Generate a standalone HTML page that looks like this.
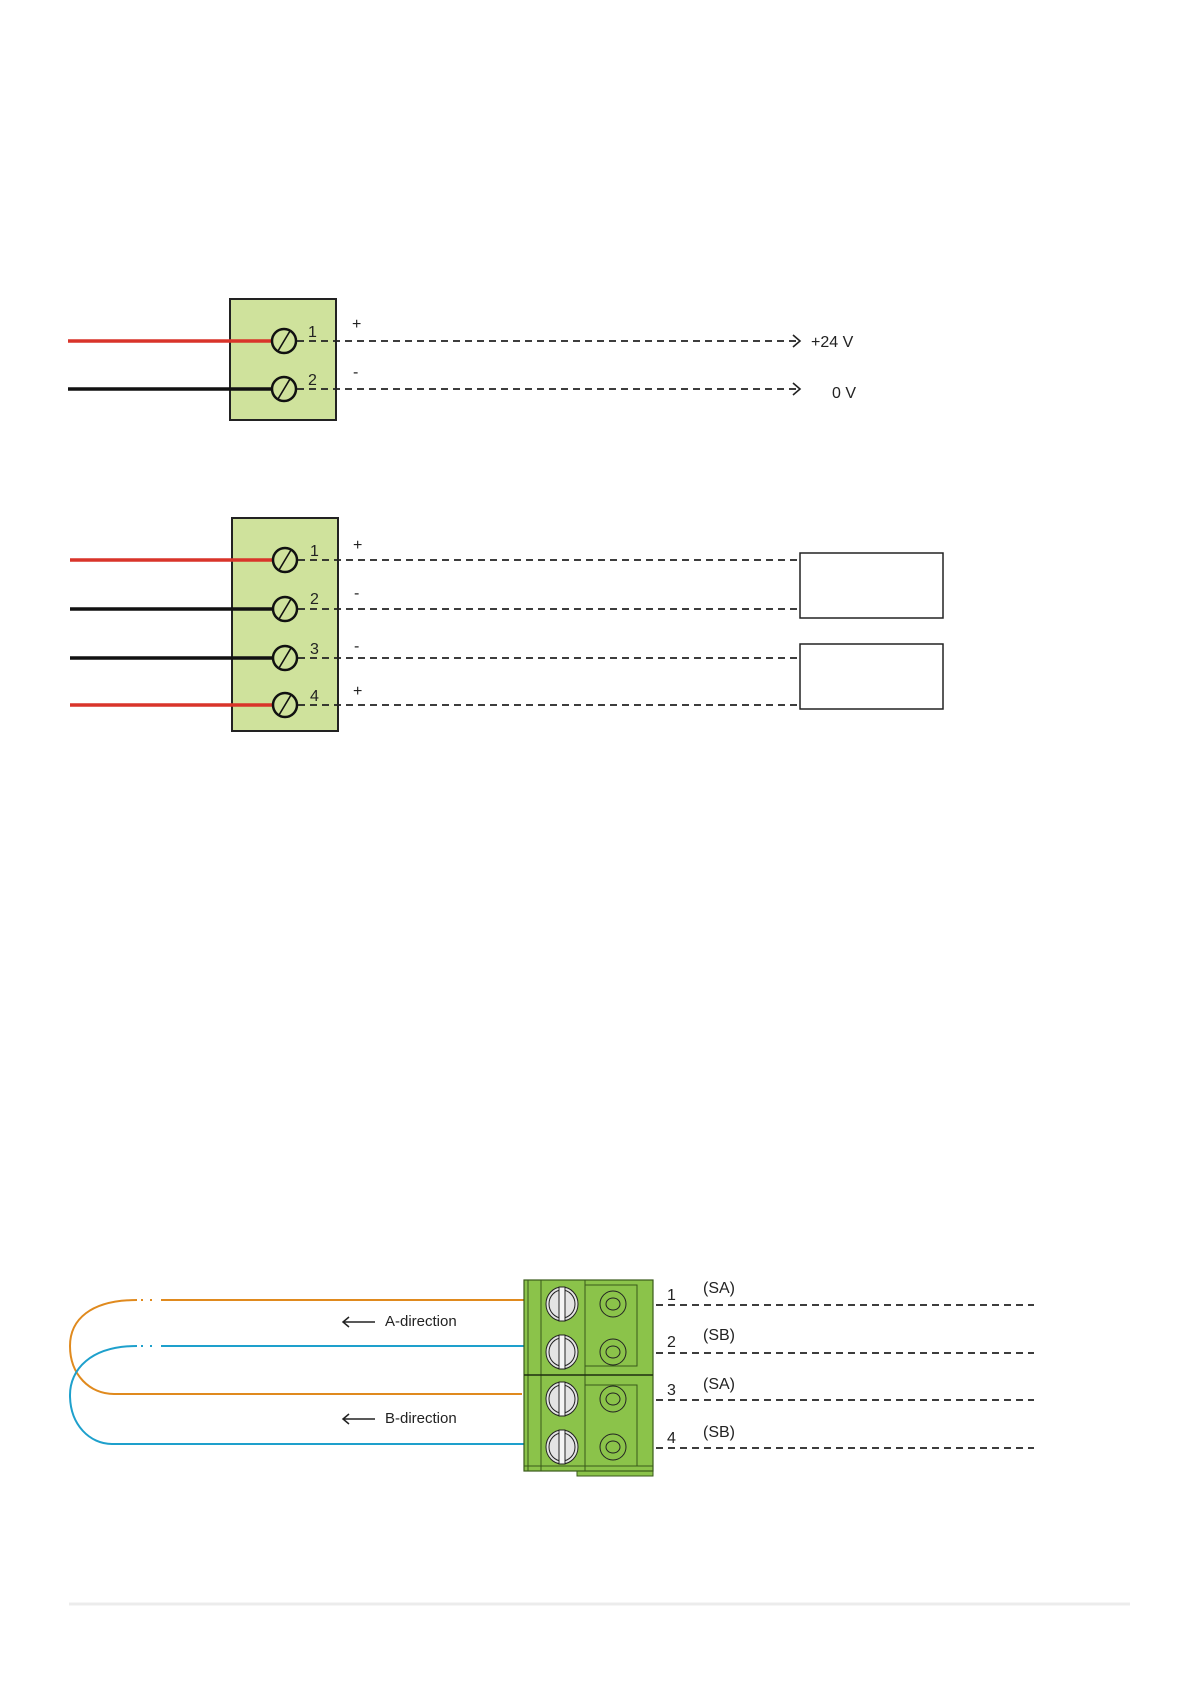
<!DOCTYPE html>
<html><head><meta charset="utf-8"><style>html,body{margin:0;padding:0;background:#fff}svg{display:block}</style></head><body>
<svg width="1191" height="1684" viewBox="0 0 1191 1684" xmlns="http://www.w3.org/2000/svg" font-family="Liberation Sans, sans-serif">
<!-- Diagram 1 -->
<rect x="230" y="299" width="106" height="121" fill="#cfe29c" stroke="#222" stroke-width="2"/>
<line x1="68" y1="341" x2="273" y2="341" stroke="#d9342a" stroke-width="3.5"/>
<line x1="68" y1="389" x2="273" y2="389" stroke="#111" stroke-width="3.5"/>
<g stroke="#111" stroke-width="2.5" fill="none">
<circle cx="284" cy="341" r="12"/>
<circle cx="284" cy="389" r="12"/>
</g>
<g stroke="#111" stroke-width="1.6" fill="none">
<line x1="278" y1="351" x2="290" y2="331"/>
<line x1="278" y1="399" x2="290" y2="379"/>
</g>
<g stroke="#222" stroke-width="1.8" stroke-dasharray="7,5" fill="none">
<line x1="297" y1="341" x2="798" y2="341"/>
<line x1="297" y1="389" x2="798" y2="389"/>
</g>
<g stroke="#222" stroke-width="1.6" fill="none">
<polyline points="793,335 800,341 793,347"/>
<polyline points="793,383 800,389 793,395"/>
</g>
<g font-size="16" fill="#222">
<text x="308" y="337">1</text><text x="308" y="385">2</text>
<text x="352" y="329">+</text><text x="353" y="377">-</text>
<text x="811" y="347">+24 V</text><text x="832" y="398">0 V</text>
</g>
<!-- Diagram 2 -->
<rect x="232" y="518" width="106" height="213" fill="#cfe29c" stroke="#222" stroke-width="2"/>
<line x1="70" y1="560" x2="273" y2="560" stroke="#d9342a" stroke-width="3.5"/>
<line x1="70" y1="609" x2="273" y2="609" stroke="#111" stroke-width="3.5"/>
<line x1="70" y1="658" x2="273" y2="658" stroke="#111" stroke-width="3.5"/>
<line x1="70" y1="705" x2="273" y2="705" stroke="#d9342a" stroke-width="3.5"/>
<g stroke="#111" stroke-width="2.5" fill="none">
<circle cx="285" cy="560" r="12"/>
<circle cx="285" cy="609" r="12"/>
<circle cx="285" cy="658" r="12"/>
<circle cx="285" cy="705" r="12"/>
</g>
<g stroke="#111" stroke-width="1.6" fill="none">
<line x1="279" y1="570" x2="291" y2="550"/>
<line x1="279" y1="619" x2="291" y2="599"/>
<line x1="279" y1="668" x2="291" y2="648"/>
<line x1="279" y1="715" x2="291" y2="695"/>
</g>
<g stroke="#222" stroke-width="1.8" stroke-dasharray="7,5" fill="none">
<line x1="298" y1="560" x2="798" y2="560"/>
<line x1="298" y1="609" x2="798" y2="609"/>
<line x1="298" y1="658" x2="798" y2="658"/>
<line x1="298" y1="705" x2="798" y2="705"/>
</g>
<rect x="800" y="553" width="143" height="65" fill="#fff" stroke="#222" stroke-width="1.5"/>
<rect x="800" y="644" width="143" height="65" fill="#fff" stroke="#222" stroke-width="1.5"/>
<g font-size="16" fill="#222">
<text x="310" y="556">1</text><text x="310" y="604">2</text><text x="310" y="654">3</text><text x="310" y="701">4</text>
<text x="353" y="550">+</text><text x="354" y="598">-</text><text x="354" y="651">-</text><text x="353" y="696">+</text>
</g>
<!-- Diagram 3 -->
<g fill="none" stroke-width="2">
<path d="M524,1300 H161" stroke="#e08a1e"/>
<path d="M152,1300 H150 M143,1300 H141" stroke="#e08a1e"/>
<path d="M137,1300 C90,1300 70,1320 70,1346 C70,1375 90,1394 114,1394 H522" stroke="#e08a1e"/>
<path d="M524,1346 H161" stroke="#1ea0cc"/>
<path d="M152,1346 H150 M143,1346 H141" stroke="#1ea0cc"/>
<path d="M137,1346 C90,1346 70,1370 70,1395 C70,1425 90,1444 112,1444 H524" stroke="#1ea0cc"/>
</g>
<rect x="577" y="1440" width="76" height="36" fill="#8bc34a" stroke="#3a5a1a" stroke-width="1"/>
<rect x="524" y="1280" width="129" height="191" fill="#8bc34a" stroke="#3a5a1a" stroke-width="1.2"/>
<g stroke="#3a5a1a" stroke-width="1" fill="none">
<line x1="528" y1="1280" x2="528" y2="1471"/>
<line x1="541" y1="1280" x2="541" y2="1471"/>
<line x1="585" y1="1280" x2="585" y2="1471"/>
<rect x="585" y="1285" width="52" height="81"/>
<rect x="585" y="1385" width="52" height="81"/>
<line x1="524" y1="1466" x2="653" y2="1466"/>
</g>
<line x1="524" y1="1375" x2="653" y2="1375" stroke="#1e2e10" stroke-width="1.5"/>
<g stroke="#222" stroke-width="1">
<g fill="#e4e4e4">
<ellipse cx="562" cy="1304" rx="16" ry="17"/><ellipse cx="562" cy="1352" rx="16" ry="17"/>
<ellipse cx="562" cy="1399" rx="16" ry="17"/><ellipse cx="562" cy="1447" rx="16" ry="17"/>
</g>
<g fill="none">
<ellipse cx="562" cy="1304" rx="13" ry="14"/><ellipse cx="562" cy="1352" rx="13" ry="14"/>
<ellipse cx="562" cy="1399" rx="13" ry="14"/><ellipse cx="562" cy="1447" rx="13" ry="14"/>
</g>
<g fill="#f4f4f4">
<rect x="559" y="1287" width="6" height="34"/><rect x="559" y="1335" width="6" height="34"/>
<rect x="559" y="1382" width="6" height="34"/><rect x="559" y="1430" width="6" height="34"/>
</g>
<g fill="none">
<circle cx="613" cy="1304" r="13"/><ellipse cx="613" cy="1304" rx="7" ry="6"/>
<circle cx="613" cy="1352" r="13"/><ellipse cx="613" cy="1352" rx="7" ry="6"/>
<circle cx="613" cy="1399" r="13"/><ellipse cx="613" cy="1399" rx="7" ry="6"/>
<circle cx="613" cy="1447" r="13"/><ellipse cx="613" cy="1447" rx="7" ry="6"/>
</g>
</g>
<g stroke="#222" stroke-width="1.8" stroke-dasharray="7,5" fill="none">
<line x1="656" y1="1305" x2="1034" y2="1305"/>
<line x1="656" y1="1353" x2="1034" y2="1353"/>
<line x1="656" y1="1400" x2="1034" y2="1400"/>
<line x1="656" y1="1448" x2="1034" y2="1448"/>
</g>
<g font-size="16" fill="#222">
<text x="667" y="1300">1</text><text x="667" y="1347">2</text><text x="667" y="1395">3</text><text x="667" y="1443">4</text>
<text x="703" y="1293">(SA)</text><text x="703" y="1340">(SB)</text><text x="703" y="1389">(SA)</text><text x="703" y="1437">(SB)</text>
<text x="385" y="1326" font-size="15">A-direction</text>
<text x="385" y="1423" font-size="15">B-direction</text>
</g>
<g stroke="#222" stroke-width="1.5" fill="none">
<path d="M343,1322 H375 M349,1317 L343,1322 L349,1327"/>
<path d="M343,1419 H375 M349,1414 L343,1419 L349,1424"/>
</g>
<line x1="69" y1="1604" x2="1130" y2="1604" stroke="#ececec" stroke-width="3"/>
</svg>
</body></html>
